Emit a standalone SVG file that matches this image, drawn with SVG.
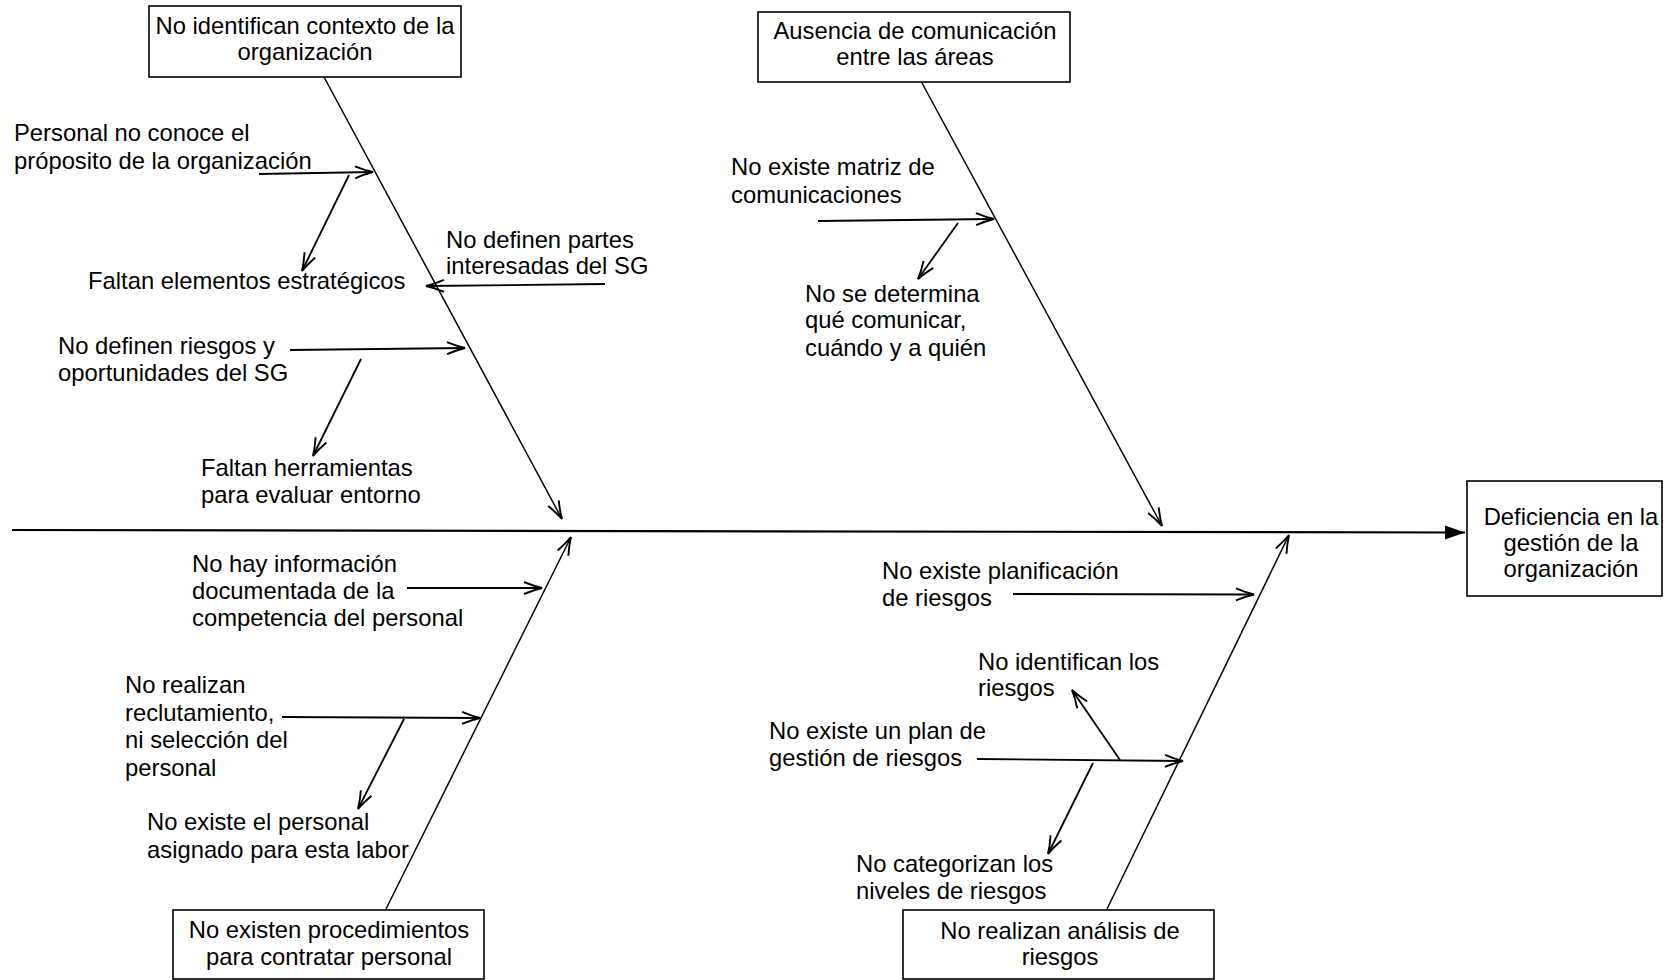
<svg xmlns="http://www.w3.org/2000/svg" width="1664" height="980" viewBox="0 0 1664 980">
<style>
  .box { fill: #ffffff; stroke: #000000; stroke-width: 1.6; }
  .t { font-family: "Liberation Sans", Arial, sans-serif; font-size: 23.8px; fill: #000000; }
  .c { text-anchor: middle; }
  .bone { stroke: #000000; stroke-width: 1.5; fill: none; marker-end: url(#open); }
  .sub { stroke: #000000; stroke-width: 1.8; fill: none; marker-end: url(#open); }
  .spine { stroke: #000000; stroke-width: 2.2; fill: none; marker-end: url(#solid); }
</style>
<defs>
  <marker id="open" markerUnits="userSpaceOnUse" orient="auto" markerWidth="30" markerHeight="20" viewBox="-20 -10 22 20" refX="0" refY="0" overflow="visible">
    <path d="M-18,-6 Q-8,-1.8 0,0 Q-8,1.8 -18,6" fill="none" stroke="#000000" stroke-width="1.9"/>
  </marker>
  <marker id="solid" markerUnits="userSpaceOnUse" orient="auto" markerWidth="30" markerHeight="20" viewBox="-22 -10 24 20" refX="0" refY="0" overflow="visible">
    <path d="M-20,-7 L0,0 L-20,7 Z" fill="#000000"/>
  </marker>
</defs>

<g id="connectors">
  <line class="spine" x1="12" y1="530" x2="1465" y2="532.5"/>
  <line class="bone" x1="324" y1="77" x2="562" y2="519"/>
  <line class="bone" x1="922" y1="83" x2="1162" y2="526"/>
  <line class="bone" x1="386" y1="909" x2="571" y2="537"/>
  <line class="bone" x1="1107" y1="909" x2="1289" y2="535"/>
  <line class="sub" x1="259" y1="174" x2="373" y2="172"/>
  <line class="sub" x1="349" y1="175" x2="302" y2="271"/>
  <line class="sub" x1="605" y1="284" x2="426" y2="286"/>
  <line class="sub" x1="290" y1="350" x2="465" y2="348"/>
  <line class="sub" x1="361" y1="359" x2="313" y2="456"/>
  <line class="sub" x1="818" y1="221" x2="994" y2="219"/>
  <line class="sub" x1="958" y1="223" x2="918" y2="279"/>
  <line class="sub" x1="407" y1="588" x2="542" y2="588"/>
  <line class="sub" x1="282" y1="717" x2="480" y2="718"/>
  <line class="sub" x1="404" y1="719" x2="358" y2="809"/>
  <line class="sub" x1="1013" y1="594" x2="1254" y2="594.5"/>
  <line class="sub" x1="977" y1="759" x2="1183" y2="761"/>
  <line class="sub" x1="1120" y1="760" x2="1072" y2="690"/>
  <line class="sub" x1="1093" y1="763" x2="1048" y2="854"/>
</g>

<g id="node-contexto">
  <rect class="box" x="149" y="6" width="312" height="71"/>
  <text class="t c" x="305" y="34">No identifican contexto de la</text>
  <text class="t c" x="305" y="60">organización</text>
</g>

<g id="node-comunicacion">
  <rect class="box" x="758" y="12" width="312" height="70"/>
  <text class="t c" x="915" y="39">Ausencia de comunicación</text>
  <text class="t c" x="915" y="65">entre las áreas</text>
</g>

<g id="node-efecto">
  <rect class="box" x="1467" y="481" width="195" height="115"/>
  <text class="t c" x="1571" y="525">Deficiencia en la</text>
  <text class="t c" x="1571" y="551">gestión de la</text>
  <text class="t c" x="1571" y="577">organización</text>
</g>

<g id="node-procedimientos">
  <rect class="box" x="173" y="910" width="311" height="69"/>
  <text class="t c" x="329" y="938">No existen procedimientos</text>
  <text class="t c" x="329" y="965">para contratar personal</text>
</g>

<g id="node-analisis">
  <rect class="box" x="903" y="910" width="311" height="69"/>
  <text class="t c" x="1060" y="939">No realizan análisis de</text>
  <text class="t c" x="1060" y="965">riesgos</text>
</g>

<g id="cause-proposito">
  <text class="t" x="14" y="141">Personal no conoce el</text>
  <text class="t" x="14" y="169">próposito de la organización</text>
</g>
<g id="cause-elementos">
  <text class="t" x="88" y="289">Faltan elementos estratégicos</text>
</g>
<g id="cause-partes">
  <text class="t" x="446" y="248">No definen partes</text>
  <text class="t" x="446" y="274">interesadas del SG</text>
</g>
<g id="cause-riesgos-oport">
  <text class="t" x="58" y="354">No definen riesgos y</text>
  <text class="t" x="58" y="381">oportunidades del SG</text>
</g>
<g id="cause-herramientas">
  <text class="t" x="201" y="476">Faltan herramientas</text>
  <text class="t" x="201" y="503">para evaluar entorno</text>
</g>
<g id="cause-matriz">
  <text class="t" x="731" y="175">No existe matriz de</text>
  <text class="t" x="731" y="203">comunicaciones</text>
</g>
<g id="cause-que-comunicar">
  <text class="t" x="805" y="302">No se determina</text>
  <text class="t" x="805" y="328">qué comunicar,</text>
  <text class="t" x="805" y="356">cuándo y a quién</text>
</g>
<g id="cause-informacion">
  <text class="t" x="192" y="572">No hay información</text>
  <text class="t" x="192" y="599">documentada de la</text>
  <text class="t" x="192" y="626">competencia del personal</text>
</g>
<g id="cause-reclutamiento">
  <text class="t" x="125" y="693">No realizan</text>
  <text class="t" x="125" y="721">reclutamiento,</text>
  <text class="t" x="125" y="748">ni selección del</text>
  <text class="t" x="125" y="776">personal</text>
</g>
<g id="cause-personal-asignado">
  <text class="t" x="147" y="830">No existe el personal</text>
  <text class="t" x="147" y="858">asignado para esta labor</text>
</g>
<g id="cause-planificacion">
  <text class="t" x="882" y="579">No existe planificación</text>
  <text class="t" x="882" y="606">de riesgos</text>
</g>
<g id="cause-identifican">
  <text class="t" x="978" y="670">No identifican los</text>
  <text class="t" x="978" y="696">riesgos</text>
</g>
<g id="cause-plan">
  <text class="t" x="769" y="739">No existe un plan de</text>
  <text class="t" x="769" y="766">gestión de riesgos</text>
</g>
<g id="cause-categorizan">
  <text class="t" x="856" y="872">No categorizan los</text>
  <text class="t" x="856" y="899">niveles de riesgos</text>
</g>
</svg>
